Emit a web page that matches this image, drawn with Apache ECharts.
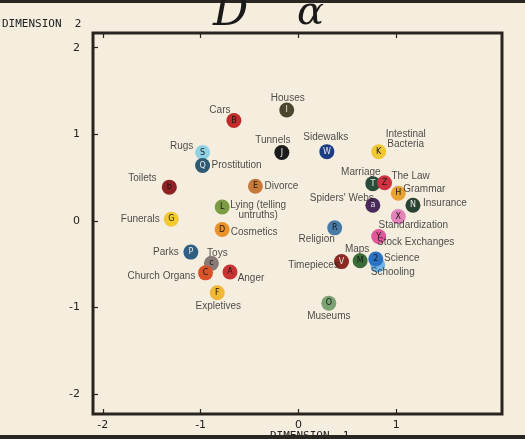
<!DOCTYPE html>
<html><head><meta charset="utf-8">
<script src="https://cdn.jsdelivr.net/npm/echarts@6/dist/echarts.min.js"></script>
<style>html,body{margin:0;padding:0;background:#f5eedf}#c{width:525px;height:439px}</style>
</head><body><div id="c"></div>
<script>
// ---- data ----
const names = ["Houses","Cars","Tunnels","Rugs","Prostitution","Toilets","Divorce","Lying (telling\nuntruths)","Funerals","Cosmetics","Parks","Toys","Church Organs","Anger","Expletives","Sidewalks","Intestinal\nBacteria","Marriage","The Law","Grammar","Spiders' Webs","Insurance","Standardization","Religion","Stock Exchanges","Timepieces","Maps","Schooling","Science","Museums"];
const dim1 = [-0.12,-0.66,-0.17,-0.98,-0.98,-1.32,-0.44,-0.78,-1.30,-0.78,-1.10,-0.89,-0.95,-0.70,-0.83,0.29,0.82,0.76,0.88,1.02,0.76,1.17,1.02,0.37,0.82,0.44,0.63,0.81,0.79,0.31];
const dim2 = [1.28,1.16,0.79,0.79,0.64,0.39,0.40,0.16,0.02,-0.10,-0.36,-0.49,-0.60,-0.59,-0.83,0.80,0.80,0.43,0.44,0.32,0.18,0.18,0.05,-0.08,-0.18,-0.47,-0.46,-0.51,-0.44,-0.95];
const letters = ["I","B","J","S","Q","b","E","L","G","D","P","c","C","A","F","W","K","T","Z","H","a","N","X","R","Y","V","M","","2","O"];
const ticks = [-2,-1,0,1,2];
const xTicks = [-2,-1,0,1];

// ---- styling (not data) ----
const colors = ["#4a4630","#c42a2a","#1c1a1a","#8fd2e4","#2d5a72","#8c2222","#c87a3a","#7c9c44","#f2c834","#e8922e","#2f5f82","#8a7a76","#d8522a","#c83232","#f0b834","#1c3c84","#f0c834","#2a4a3a","#d03242","#e8a232","#4a2a5a","#2a4232","#e482ba","#4a7aa8","#e0589a","#8a2a22","#3a6c3a","#72b4e4","#2a72c4","#7aa272"];
const offsets = [[1,-12],[-14,-10],[-9,-12],[-21,-6],[34,0],[-27,-9],[26,0],[36,3],[-31,0],[32,3],[-25,0],[6,-10],[-44,3],[21,6],[1,13],[-1,-14],[27,-12],[-12,-11],[26,-7],[26,-4],[-31,-7],[32,-2],[15,9],[-18,11],[37,6],[-28,4],[-3,-11],[15,7],[26,-1],[0,13]];
const lightLetter = new Set(["Tunnels","Sidewalks","Houses","Marriage","Insurance","Spiders' Webs","Timepieces","Prostitution","Parks"]);

const dotData = names.map((n,i)=>({
  name:n, value:[dim1[i],dim2[i]],
  itemStyle:{color:colors[i]},
  label:{formatter:letters[i], color: lightLetter.has(n)?'#e8e8e8':'#1a1a1a'}
}));
const labelData = names.map((n,i)=>({
  name:n, value:[dim1[i],dim2[i]],
  label:{offset:offsets[i]}
}));

const chart = echarts.init(document.getElementById('c'));
const axisFont = {fontFamily:'DejaVu Sans',fontSize:11,color:'#222'};
const tickStyle = {color:'#2a2420',width:1.2};
chart.setOption({
  backgroundColor:'#f5eedf',
  animation:false,
  grid:{left:93,right:23,top:33,bottom:25,show:true,borderColor:'#2a2420',borderWidth:3,backgroundColor:'transparent'},
  xAxis:[{type:'value',min:-2.1,max:2.08,position:'bottom',
    axisLine:{show:false,onZero:false},splitLine:{show:false},
    axisTick:{show:true,inside:true,length:5,customValues:xTicks,lineStyle:tickStyle},
    axisLabel:Object.assign({customValues:xTicks,margin:6},axisFont)},
   {type:'value',min:-2.1,max:2.08,position:'top',
    axisLine:{show:false,onZero:false},splitLine:{show:false},
    axisTick:{show:true,inside:true,length:5,customValues:xTicks,lineStyle:tickStyle},
    axisLabel:{show:false}}],
  yAxis:{type:'value',min:-2.23,max:2.17,position:'left',
    axisLine:{show:false,onZero:false},splitLine:{show:false},
    axisTick:{show:true,inside:true,length:5,customValues:ticks,lineStyle:tickStyle},
    axisLabel:Object.assign({customValues:ticks,margin:13},axisFont)},
  graphic:[
    {type:'rect',left:0,top:0,shape:{width:525,height:3},style:{fill:'#2a2622'}},
    {type:'text',left:2,top:19,style:{text:'DIMENSION  2',font:'11px "DejaVu Sans Mono"',fill:'#222'}},
    {type:'text',left:213,top:-8,style:{text:'D',font:'italic 44px "DejaVu Serif"',fill:'#1a1a1a'}},
    {type:'text',left:297,top:-6,style:{text:'α',font:'italic 40px "DejaVu Serif"',fill:'#1a1a1a'}},
    {type:'text',left:270,top:431,style:{text:'DIMENSION  1',font:'11px "DejaVu Sans Mono"',fill:'#222'}},
    {type:'rect',left:0,top:435,shape:{width:525,height:4},style:{fill:'#2a2622'}}
  ],
  series:[
    {type:'scatter',xAxisIndex:0,symbol:'circle',symbolSize:15,data:dotData,z:3,
     itemStyle:{opacity:1},
     label:{show:true,position:'inside',fontFamily:'DejaVu Sans',fontSize:8}},
    {type:'scatter',xAxisIndex:0,symbolSize:1,data:labelData,z:4,
     itemStyle:{color:'rgba(0,0,0,0)'},
     label:{show:true,position:['50%','50%'],align:'center',verticalAlign:'middle',
       formatter:p=>p.name,fontFamily:'Liberation Sans',fontSize:10,color:'#1e1e1e',lineHeight:10}}
  ]
});
</script></body></html>
